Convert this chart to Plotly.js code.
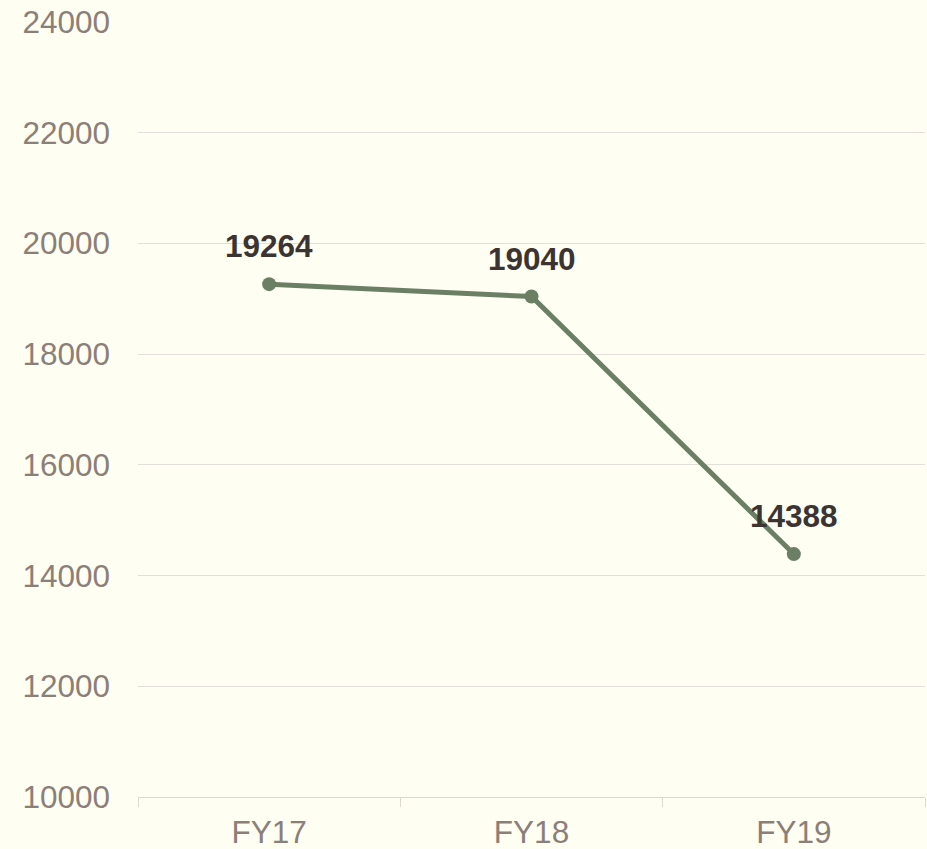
<!DOCTYPE html>
<html><head><meta charset="utf-8">
<script src="https://cdn.plot.ly/plotly-3.0.1.min.js"></script>
<style>html,body{margin:0;padding:0;background:#FEFEF3;}#chart{width:927px;height:849px;}</style>
</head><body><div id="chart"></div>
<script>
var categories = ["FY17", "FY18", "FY19"];
var values = [19264, 19040, 14388];
var yTicks = [10000, 12000, 14000, 16000, 18000, 20000, 22000, 24000];

var trace = {
  type: "scatter",
  mode: "lines+markers",
  x: categories,
  y: values,
  line: {color: "#6B7F65", width: 5},
  marker: {color: "#6B7F65", size: 14},
  cliponaxis: false,
  hoverinfo: "skip"
};

var annotations = categories.map(function (c, i) {
  return {
    x: c, y: values[i], xref: "x", yref: "y",
    text: String(values[i]),
    showarrow: false,
    xanchor: "center", yanchor: "bottom",
    yshift: 18,
    font: {family: "Liberation Sans, Arial, sans-serif", size: 31.5, color: "#3B3431", weight: "bold"}
  };
});

var layout = {
  width: 927, height: 849,
  margin: {l: 138, r: 2, t: 22, b: 52},
  paper_bgcolor: "#FEFEF3",
  plot_bgcolor: "#FEFEF3",
  showlegend: false,
  font: {family: "Liberation Sans, Arial, sans-serif", size: 31.5, color: "#8C7F78"},
  annotations: annotations,
  xaxis: {
    type: "category",
    tickson: "boundaries",
    ticks: "outside", ticklen: 9, tickcolor: "#DCD9D3", tickwidth: 1,
    showline: true, linecolor: "#DCD9D3", linewidth: 1,
    showgrid: false, zeroline: false,
    ticklabelstandoff: 7,
    tickfont: {size: 31.5, color: "#8C7F78"},
    range: [-0.5, 2.5]
  },
  yaxis: {
    range: [10000, 24000],
    tickvals: yTicks,
    ticktext: yTicks.map(String),
    showgrid: true, gridcolor: "#E3E0DA", gridwidth: 1,
    zeroline: false, showline: false, ticks: "",
    ticklabelstandoff: 27,
    tickfont: {size: 31.5, color: "#8C7F78"}
  }
};

Plotly.newPlot("chart", [trace], layout, {displayModeBar: false, staticPlot: true});
</script>
</body></html>
